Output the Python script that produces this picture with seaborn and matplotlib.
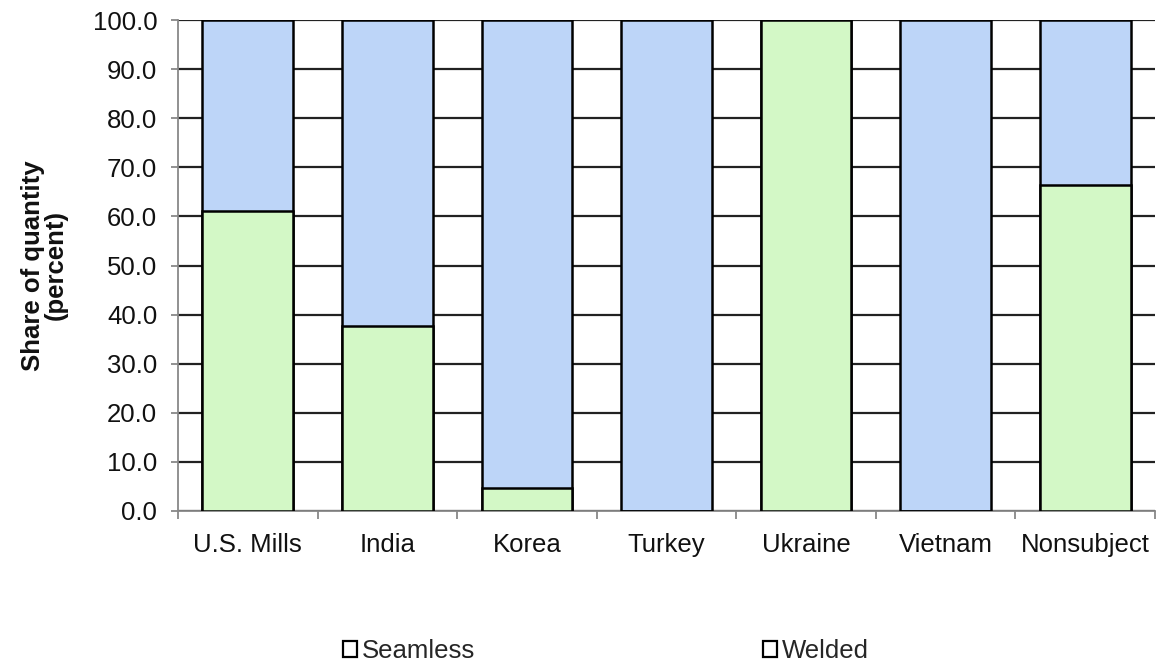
import matplotlib
matplotlib.use("Agg")
import matplotlib.pyplot as plt
import seaborn as sns
import pandas as pd
from matplotlib.patches import Patch

sources = ["U.S. Mills", "India", "Korea", "Turkey", "Ukraine", "Vietnam", "Nonsubject"]
seamless = [61.0, 37.7, 4.7, 0.0, 100.0, 0.0, 66.3]
welded = [100.0 - s for s in seamless]
y_ticks = [0, 10, 20, 30, 40, 50, 60, 70, 80, 90, 100]

sns.set_theme(style="white")
plt.rcParams["font.family"] = ["Liberation Sans", "DejaVu Sans"]

df = pd.DataFrame({"source": sources, "Seamless": seamless, "Welded": welded})
df["total"] = df["Seamless"] + df["Welded"]

fig = plt.figure(figsize=(11.61, 6.67), dpi=100)
ax = fig.add_axes([178 / 1161, 1 - 511 / 667, (1155 - 178) / 1161, (511 - 20) / 667])

green = "#d3f8c6"
blue = "#bdd5f8"
fs = 18.5

# welded drawn as full-height bar, seamless over it from the bottom
sns.barplot(data=df, x="source", y="total", color=blue, width=0.65,
            edgecolor="black", linewidth=1.8, saturation=1, ax=ax, zorder=3)
sns.barplot(data=df, x="source", y="Seamless", color=green, width=0.65,
            edgecolor="black", linewidth=1.8, saturation=1, ax=ax, zorder=4)

ax.set_ylim(0, 100)
ax.set_xlim(-0.5, 6.5)
ax.set_yticks(y_ticks)
ax.set_yticklabels([f"{v:.1f}" for v in y_ticks], fontsize=fs, color="#111111")
ax.tick_params(axis="x", labelsize=fs, labelcolor="#111111")
ax.set_xlabel("")
ax.set_ylabel("Share of quantity\n(percent)", fontsize=fs, fontweight="bold",
              color="#111111", linespacing=0.95)
ax.yaxis.set_label_coords(-0.113, 0.5)

ax.yaxis.grid(True, color="#222222", linewidth=1.6, zorder=0)
ax.set_axisbelow(True)
for side in ["top", "right"]:
    ax.spines[side].set_visible(False)
for side in ["left", "bottom"]:
    ax.spines[side].set_color("#888888")
    ax.spines[side].set_linewidth(1.3)

ax.tick_params(axis="y", which="major", left=True, length=5, color="#888888",
               width=1.3, pad=10)
ax.set_xticks([i + 0.5 for i in range(-1, 7)], minor=True)
ax.tick_params(axis="x", which="major", bottom=False, length=0, pad=16)
ax.tick_params(axis="x", which="minor", bottom=True, length=6, color="#888888", width=1.3)

handles = [Patch(facecolor="white", edgecolor="black", linewidth=1.6, label="Seamless"),
           Patch(facecolor="white", edgecolor="black", linewidth=1.6, label="Welded")]
fig.legend(handles=handles, loc="center", bbox_to_anchor=(606 / 1161, 0.024), ncol=2,
           frameon=False, fontsize=fs, handlelength=0.55, handleheight=0.55,
           handletextpad=0.2, columnspacing=11.2, borderpad=0)

fig.savefig("out.png", dpi=100)
